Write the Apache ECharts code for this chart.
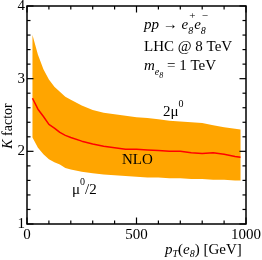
<!DOCTYPE html>
<html><head><meta charset="utf-8">
<script src="https://cdn.jsdelivr.net/npm/echarts@6/dist/echarts.min.js"></script>
<style>html,body{margin:0;padding:0;background:#fff}#c{width:262px;height:260px}</style>
</head><body><div id="c"></div>
<script>
// Data
const pt     = [25, 50, 75, 100, 125, 150, 175, 200, 250, 300, 350, 400, 450, 500, 550, 600, 650, 700, 750, 800, 850, 900, 950, 975];
const kUpper = [3.60,3.33,3.13,2.99,2.89,2.82,2.75,2.71,2.63,2.57,2.53,2.51,2.49,2.47,2.46,2.44,2.42,2.41,2.40,2.39,2.36,2.33,2.31,2.30];
const kLower = [2.19,2.05,1.96,1.89,1.85,1.82,1.77,1.75,1.72,1.70,1.68,1.67,1.66,1.65,1.64,1.64,1.63,1.63,1.62,1.62,1.61,1.61,1.60,1.60];
const kNLO   = [2.73,2.58,2.48,2.37,2.32,2.26,2.22,2.19,2.14,2.10,2.07,2.05,2.03,2.03,2.02,2.01,2.00,2.00,1.98,1.97,1.98,1.96,1.93,1.92];
const xTicks = [0, 500, 1000];
const yTicks = [1, 2, 3, 4];
const xMinorStep = 100;
const yMinorStep = 0.2;

const FONT = '"Liberation Serif", "Times New Roman", serif';
const ctx = document.createElement('canvas').getContext('2d');
function tw(t, s, it){ ctx.font = (it?'italic ':'') + s + 'px ' + FONT; return ctx.measureText(t).width; }
function formula(x, y, parts){
  let cx = x; const ch = [];
  parts.forEach(p => {
    const s = p.s || 15;
    ch.push({type:'text', x: cx + (p.dx||0), y: y + (p.dy||0), style:{text:p.t, fontSize:s, fontFamily:FONT, fontStyle:p.i?'italic':'normal', fill:'#000', verticalAlign:'middle', align:'left'}});
    if (p.adv !== false) cx += tw(p.t, s, p.i);
  });
  return ch;
}
const xMin = xTicks[0], xMax = xTicks[xTicks.length-1], yMin = yTicks[0], yMax = yTicks[yTicks.length-1];
function range(a, b, step){ const r = []; const n = Math.round((b-a)/step); for (let i=0;i<=n;i++) r.push(+(a + i*step).toFixed(6)); return r; }
const xMinor = range(xMin, xMax, xMinorStep), yMinor = range(yMin, yMax, yMinorStep);

const chart = echarts.init(document.getElementById('c'));
const lbl = {color:'#000', fontSize:15, fontFamily:FONT};
chart.setOption({
  animation:false,
  grid:{left:27, right:16, top:6, bottom:36, outerBoundsMode:'none', containLabel:false},
  xAxis:{type:'value', min:xMin, max:xMax, interval:xTicks[1]-xTicks[0],
    axisLine:{show:false, onZero:false}, axisTick:{show:false}, splitLine:{show:false},
    axisLabel:Object.assign({formatter:v=>String(v), margin:4}, lbl)},
  yAxis:{type:'value', min:yMin, max:yMax, interval:yTicks[1]-yTicks[0],
    axisLine:{show:false, onZero:false}, axisTick:{show:false}, splitLine:{show:false},
    axisLabel:Object.assign({formatter:v=>String(v), margin:2}, lbl)},
  series:[
    {type:'custom', coordinateSystem:'cartesian2d', clip:false, z:1, silent:true, data:[[xMin, yMin]],
      renderItem:(params, api) => {
        const pts = [];
        for (let i=0;i<pt.length;i++) pts.push(api.coord([pt[i], kUpper[i]]));
        for (let i=pt.length-1;i>=0;i--) pts.push(api.coord([pt[i], kLower[i]]));
        return {type:'polygon', shape:{points:pts}, style:{fill:'#FFA500', stroke:null}};
      }},
    {type:'line', symbol:'none', z:3, silent:true, data: pt.map((x,i)=>[x, kNLO[i]]), lineStyle:{color:'#FF0000', width:1.5}},
    {type:'custom', coordinateSystem:'cartesian2d', clip:false, z:5, silent:true, data:[[xMin, yMin]],
      renderItem:(params, api) => {
        const ch = [];
        const a = api.coord([xMin, yMin]), b = api.coord([xMax, yMax]);
        const ln = (x1,y1,x2,y2,w) => ch.push({type:'line', shape:{x1,y1,x2,y2}, style:{stroke:'#000', lineWidth:w}});
        xMinor.forEach(v => {
          const L = xTicks.includes(v) ? 6.5 : 3.5; const x = api.coord([v, yMin])[0];
          ln(x, a[1], x, a[1]-L, 1.2); ln(x, b[1], x, b[1]+L, 1.2);
        });
        yMinor.forEach(v => {
          const L = yTicks.some(t => Math.abs(t-v)<1e-6) ? 6.5 : 3.5; const y = api.coord([xMin, v])[1];
          ln(a[0], y, a[0]+L, y, 1.2); ln(b[0], y, b[0]-L, y, 1.2);
        });
        ch.push({type:'rect', shape:{x:a[0], y:b[1], width:b[0]-a[0], height:a[1]-b[1]}, style:{fill:null, stroke:'#000', lineWidth:1.5}});
        const kw = tw('K', 14, true) + tw(' factor', 14, false);
        const yTitle = {type:'group', x:8, y:126, rotation:Math.PI/2, children: formula(-kw/2, 0, [{t:'K', i:true, s:14}, {t:' factor', s:14}])};
        const tx = [].concat(
          formula(144, 25, [{t:'pp', i:true}, {t:' → '}, {t:'e', i:true}, {t:'+', s:11, dx:1, dy:-9, adv:false}, {t:'8', s:10, i:true, dy:6},
                            {t:' ', s:4}, {t:'e', i:true}, {t:'−', s:11, dx:1, dy:-9, adv:false}, {t:'8', s:10, i:true, dy:6}]),
          formula(144, 47, [{t:'LHC @ 8 TeV'}]),
          formula(144, 66, [{t:'m', i:true}, {t:'e', i:true, s:10, dy:6}, {t:'8', i:true, s:8, dy:10}, {t:' = 1 TeV'}]),
          formula(163, 112, [{t:'2μ'}, {t:'0', s:10, dy:-8}]),
          formula(122, 160, [{t:'NLO'}]),
          formula(72, 190, [{t:'μ'}, {t:'0', s:10, dy:-8}, {t:'/2'}]),
          formula(165, 250, [{t:'p', i:true}, {t:'T', i:true, s:10, dy:4}, {t:'('}, {t:'e', i:true}, {t:'8', i:true, s:10, dy:4}, {t:') [GeV]'}])
        );
        return {type:'group', children: ch.concat(tx, [yTitle])};
      }}
  ]
});
</script></body></html>
